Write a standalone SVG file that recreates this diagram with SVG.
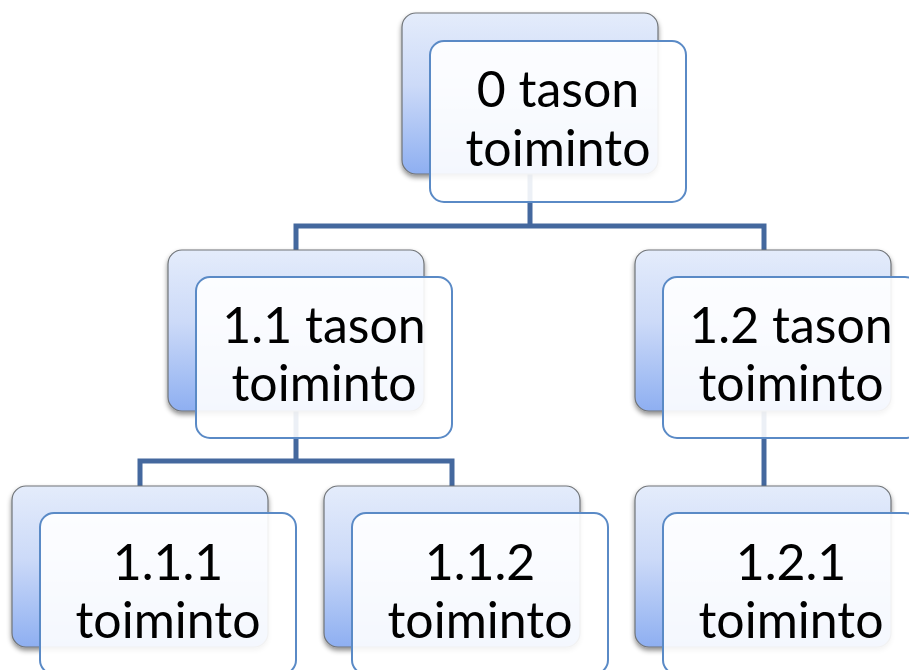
<svg xmlns="http://www.w3.org/2000/svg" width="909" height="670" viewBox="0 0 909 670">
<defs>
<linearGradient id="bg" x1="0" y1="0" x2="0" y2="1">
<stop offset="0" stop-color="#e4ecfb"/>
<stop offset="0.45" stop-color="#ccdaf8"/>
<stop offset="1" stop-color="#8eaff1"/>
</linearGradient>
<filter id="sh" x="-10%" y="-10%" width="120%" height="125%">
<feDropShadow dx="0" dy="3" stdDeviation="2.5" flood-color="#000" flood-opacity="0.45"/>
</filter>
</defs>
<style>
.back{fill:url(#bg);stroke:#707478;stroke-width:1.2;filter:url(#sh)}
.front{fill:#ffffff;fill-opacity:0.9;stroke:#5a8ac6;stroke-width:2}
.conn{fill:none;stroke:#44689e;stroke-width:5}
text{font-family:Lato,"Liberation Sans",sans-serif;font-size:50px;fill:#000;text-anchor:middle}
</style>
<g id="connectors">
<path class="conn" d="M530,173 V226 M296,250 V226 H764 V250"/>
<path class="conn" d="M296,411 V461 M140,486 V461 H452 V486"/>
<path class="conn" d="M764,411 V486"/>
</g>
<g id="n0">
<rect class="back" x="402" y="13" width="256" height="161" rx="14"/>
<rect class="front" x="430" y="41" width="256" height="161" rx="14"/>
<text x="558" y="107">0 tason</text>
<text x="558" y="166">toiminto</text>
</g>
<g id="n11">
<rect class="back" x="168" y="250" width="256" height="161" rx="14"/>
<rect class="front" x="196" y="277" width="256" height="161" rx="14"/>
<text x="324" y="343">1.1 tason</text>
<text x="324" y="401">toiminto</text>
</g>
<g id="n12">
<rect class="back" x="635" y="250" width="256" height="161" rx="14"/>
<rect class="front" x="663" y="277" width="256" height="161" rx="14"/>
<text x="791" y="343">1.2 tason</text>
<text x="791" y="401">toiminto</text>
</g>
<g id="n111">
<rect class="back" x="12" y="486" width="256" height="161" rx="14"/>
<rect class="front" x="40" y="513" width="256" height="161" rx="14"/>
<text x="168" y="580">1.1.1</text>
<text x="168" y="638">toiminto</text>
</g>
<g id="n112">
<rect class="back" x="324" y="486" width="256" height="161" rx="14"/>
<rect class="front" x="352" y="513" width="256" height="161" rx="14"/>
<text x="480" y="580">1.1.2</text>
<text x="480" y="638">toiminto</text>
</g>
<g id="n121">
<rect class="back" x="635" y="486" width="256" height="161" rx="14"/>
<rect class="front" x="663" y="513" width="256" height="161" rx="14"/>
<text x="791" y="580">1.2.1</text>
<text x="791" y="638">toiminto</text>
</g>
</svg>
